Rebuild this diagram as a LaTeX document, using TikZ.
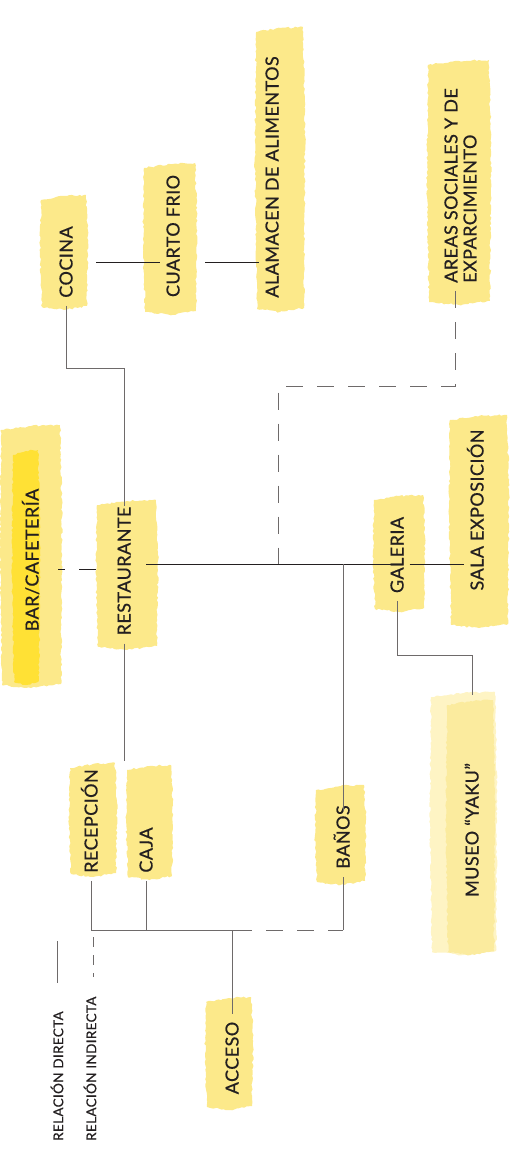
\documentclass[tikz,border=0pt]{standalone}
\usepackage{fontspec}
\setmainfont{Lato}
\newfontfamily\lblfont{Lato}[FakeBold=0.6, LetterSpace=2.5]
\usepackage{tikz}
\usetikzlibrary{decorations.pathmorphing}

\definecolor{hlyellow}{HTML}{FCE98A}
\definecolor{hlstrong}{HTML}{FFE135}
\definecolor{hlpale}{HTML}{FEF4C4}
\definecolor{hlsoft}{HTML}{FBEB9E}
\definecolor{linegray}{HTML}{6E6A6A}
\definecolor{lineink}{HTML}{231F20}

% brush stroke behind a label: [colour]{x1}{y1}{x2}{y2}
\newcommand{\brush}[5][hlyellow]{%
  \fill[#1, decorate, decoration={random steps, segment length=2.5pt, amplitude=0.9pt}]
    ({#2+1},{#3+5}) -- ({(#2+#4)/2},{#3+1}) -- ({#4-2},{#3}) -- ({#4},{#3+0.35*(#5-#3)})
    -- ({#4-1},{#5-4}) -- ({(#2+#4)/2},{#5}) -- ({#2+2},{#5-3}) -- ({#2},{#3+0.5*(#5-#3)}) -- cycle;}

\begin{document}
\begin{tikzpicture}[x=1pt, y=-1pt,
    lblbase/.style={rotate=90, font=\lblfont\fontsize{18}{19}\selectfont, text=lineink,
      inner xsep=8pt, inner ysep=6pt},
    lbl/.style={lblbase, text height=13pt, text depth=0pt},
    legend/.style={rotate=90, font=\lblfont\fontsize{13.5}{14}\selectfont, text=lineink,
      inner sep=0pt, anchor=west},
    direct/.style={line width=0.8pt, draw=linegray},
    maindir/.style={line width=0.8pt, draw=lineink},
    indirect/.style={direct, dash pattern=on 17pt off 14pt},
    mainind/.style={maindir, dash pattern=on 17pt off 14pt}
  ]
    \useasboundingbox (0,0) rectangle (509,1155);
    \pgfmathsetseed{11}

    \brush{40}{195}{88}{310}
    \brush{143}{163}{197}{315}
    \brush{255}{27}{305}{312}
    \brush{427}{60}{491}{305}
    \brush[hlyellow]{0}{425}{62}{688}
    \brush[hlstrong]{12}{450}{40}{685}
    \brush{96}{500}{158}{650}
    \brush{373}{495}{425}{612}
    \brush{449}{415}{509}{628}
    \brush{69}{763}{117}{877}
    \brush{126}{765}{173}{880}
    \brush{315}{785}{366}{885}
    \brush[hlpale]{430}{692}{497}{955}
    \brush[hlsoft]{446}{700}{495}{955}
    \brush{205}{997}{253}{1110}

    \node[lbl] (cocina) at (66,262) {COCINA};
    \node[lbl] (cuarto) at (173,236) {CUARTO FRIO};
    \node[lbl] (alamacen) at (272,177) {ALAMACEN DE ALIMENTOS};
    \node[lblbase, align=left, anchor=west] (areas) at (460.5,291) {AREAS SOCIALES Y DE\\EXPARCIMIENTO};
    \node[lbl] (bar) at (32,560) {BAR/CAFETERÍA};
    \node[lbl] (restaurante) at (124,571) {RESTAURANTE};
    \node[lbl] (galeria) at (397,555) {GALERIA};
    \node[lbl] (sala) at (477,510) {SALA EXPOSICIÓN};
    \node[lbl] (recepcion) at (91,821) {RECEPCIÓN};
    \node[lbl] (caja) at (146,850) {CAJA};
    \node[lbl] (banos) at (343,837) {BAÑOS};
    \node[lbl] (museo) at (472,830) {MUSEO “YAKU”};
    \node[lbl] (acceso) at (232,1058) {ACCESO};

    \node[legend] (ldir) at (57,1141) {RELACIÓN DIRECTA};
    \node[legend] (lind) at (90,1141) {RELACIÓN INDIRECTA};

    \coordinate (kbend) at (124,368);
    \coordinate (abend) at (278,386);
    \coordinate (hubA) at (278,564);
    \coordinate (hubB) at (343,564);
    \coordinate (gbend) at (472,655);
    \coordinate (bline) at (0,930);
    \coordinate (bsplit) at (252,930);

    \draw[maindir, shorten <=17.5pt] (cocina.south) -- (cocina.south -| cuarto.north);
    \draw[maindir, shorten <=19.5pt] (cuarto.south |- cocina.south) -- (alamacen.north |- cocina.south);
    \draw[direct, shorten >=-8pt] (cocina.west) |- (kbend) -- (restaurante.east);
    \draw[indirect] ([xshift=-5pt]areas.west) |- (abend) -- (hubA);
    \draw[mainind, dash phase=10pt, shorten <=13.5pt, shorten >=11.5pt]
      ([yshift=-9pt]bar.south) -- ([yshift=-9pt]bar.south -| restaurante.north);
    \draw[maindir, shorten <=9.5pt, shorten >=-8.5pt] (restaurante.south |- hubA) -- (galeria.north |- hubA);
    \draw[maindir] (galeria.south |- hubB) -- (sala.north |- hubB);
    \draw[direct, shorten >=-14pt] (hubB) -- (banos.east);
    \draw[direct, shorten >=60pt] (galeria.west) |- (gbend) -- (museo.east);
    \draw[direct] (restaurante.west) -- (restaurante.west |- recepcion.east);

    \draw[direct] (recepcion.west) -- (recepcion.west |- bline) -- (bsplit);
    \draw[direct] (caja.west) -- (caja.west |- bline);
    \draw[direct] (acceso.east) -- (acceso.east |- bline);
    \draw[indirect, dash phase=17pt] (bsplit) -- (banos.west |- bline);
    \draw[direct] (banos.west |- bline) -- (banos.west);

    \draw[direct] (57,941) -- (57,983);
    \draw[direct, dash pattern=on 10pt off 8pt] (93,937) -- (93,977);
  \end{tikzpicture}
\end{document}
